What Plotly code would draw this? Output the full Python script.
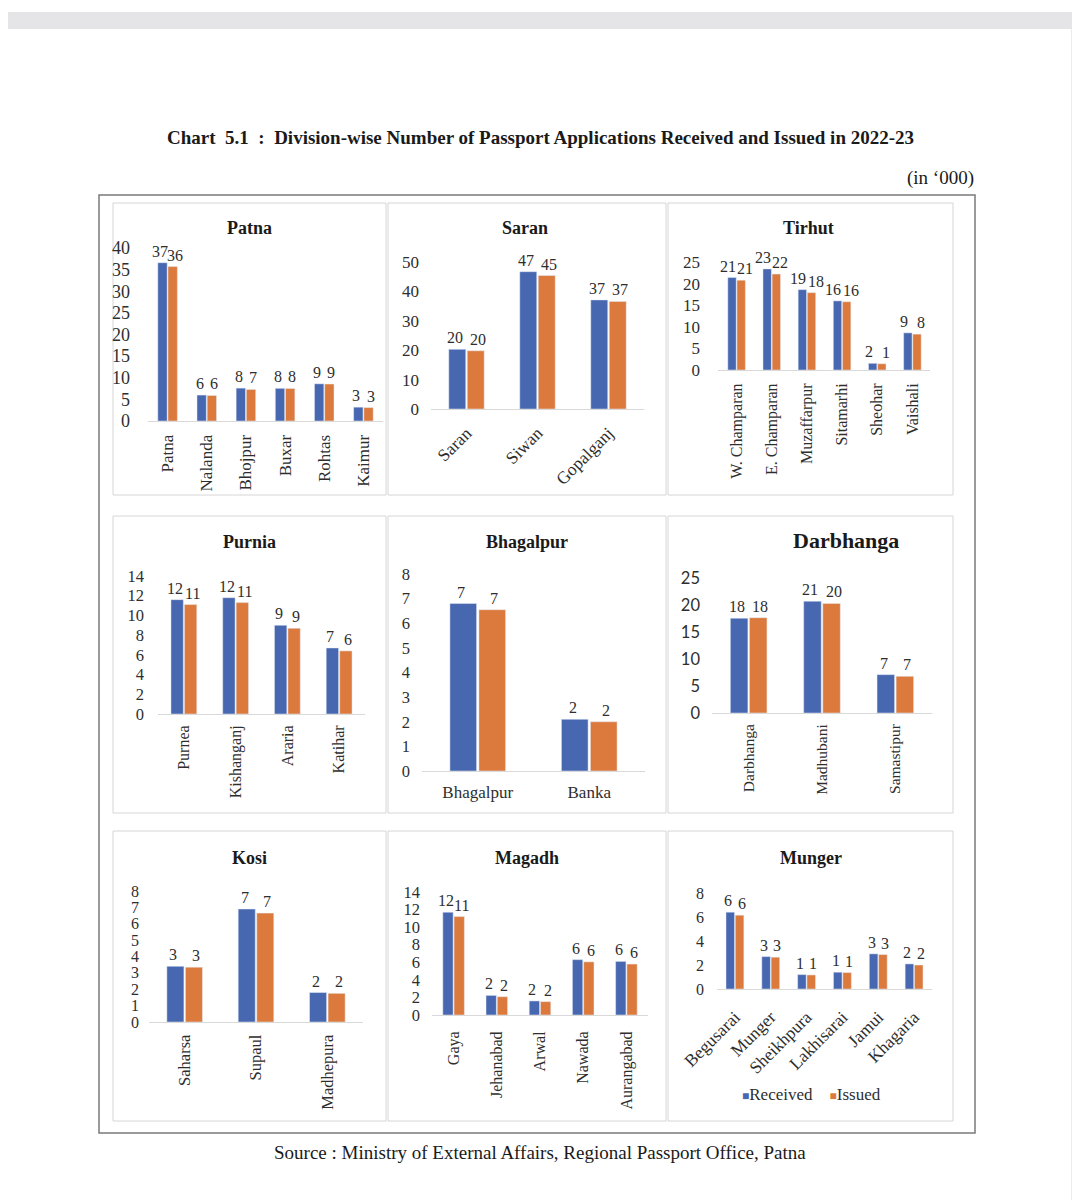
import plotly.graph_objects as go

# ---------------- data (in '000) ----------------
patna_districts = ["Patna", "Nalanda", "Bhojpur", "Buxar", "Rohtas", "Kaimur"]
patna_received = [36.6, 6.0, 7.6, 7.55, 8.6, 3.2]
patna_issued = [35.7, 5.9, 7.3, 7.52, 8.55, 3.1]

saran_districts = ["Saran", "Siwan", "Gopalganj"]
saran_received = [20.3, 46.7, 37.1]
saran_issued = [19.8, 45.4, 36.6]

tirhut_districts = ["W. Champaran", "E. Champaran", "Muzaffarpur", "Sitamarhi", "Sheohar", "Vaishali"]
tirhut_received = [21.4, 23.4, 18.6, 16.0, 1.55, 8.6]
tirhut_issued = [20.8, 22.2, 17.9, 15.8, 1.45, 8.3]

purnia_districts = ["Purnea", "Kishanganj", "Araria", "Katihar"]
purnia_received = [11.6, 11.8, 9.0, 6.7]
purnia_issued = [11.1, 11.3, 8.7, 6.4]

bhagalpur_districts = ["Bhagalpur", "Banka"]
bhagalpur_received = [6.8, 2.1]
bhagalpur_issued = [6.55, 2.0]

darbhanga_districts = ["Darbhanga", "Madhubani", "Samastipur"]
darbhanga_received = [17.55, 20.7, 7.1]
darbhanga_issued = [17.65, 20.3, 6.8]

kosi_districts = ["Saharsa", "Supaul", "Madhepura"]
kosi_received = [3.4, 6.9, 1.8]
kosi_issued = [3.35, 6.65, 1.75]

magadh_districts = ["Gaya", "Jehanabad", "Arwal", "Nawada", "Aurangabad"]
magadh_received = [11.7, 2.23, 1.6, 6.3, 6.1]
magadh_issued = [11.2, 2.08, 1.52, 6.05, 5.8]

munger_districts = ["Begusarai", "Munger", "Sheikhpura", "Lakhisarai", "Jamui", "Khagaria"]
munger_received = [6.4, 2.7, 1.2, 1.4, 2.93, 2.09]
munger_issued = [6.15, 2.65, 1.17, 1.37, 2.87, 2.0]

series_names = ["Received", "Issued"]

# ---------------- layout helpers ----------------
W, H = 1080, 1200
OFF = 8  # page body margin of the html page
BLUE = "#4767B0"
ORANGE = "#DC7A3D"
TXT = "#2e2e2e"
SERIF = "Liberation Serif, Times New Roman, serif"
SANS = "Lato, Liberation Sans, sans-serif"
BARGAP = 0.48
GROUPGAP = 0.08


def px_x(v):
    return (v - OFF) / W


def px_y(v):
    return 1 - (v - OFF) / H


panels = [
    dict(title="Patna", cats=patna_districts, rec=patna_received, iss=patna_issued,
         box=(148, 383, 248, 421), ymax=40, dtick=5, angle=-90, tx=249, ty=228,
         yfs=18, ysoff=17, xfs=17, xsoff=6),
    dict(title="Saran", cats=saran_districts, rec=saran_received, iss=saran_issued,
         box=(431, 644, 262, 409), ymax=50, dtick=10, angle=-45, tx=525, ty=228,
         yfs=17, ysoff=11, xfs=17.5, xsoff=6),
    dict(title="Tirhut", cats=tirhut_districts, rec=tirhut_received, iss=tirhut_issued,
         box=(718, 930, 262, 370), ymax=25, dtick=5, angle=-90, tx=808, ty=228,
         yfs=17, ysoff=17, xfs=16, xsoff=6, extra=4),
    dict(title="Purnia", cats=purnia_districts, rec=purnia_received, iss=purnia_issued,
         box=(158, 365, 576, 714), ymax=14, dtick=2, angle=-90, tx=249, ty=542,
         yfs=16.5, ysoff=13, xfs=16, xsoff=4),
    dict(title="Bhagalpur", cats=bhagalpur_districts, rec=bhagalpur_received, iss=bhagalpur_issued,
         box=(422, 645, 574, 771), ymax=8, dtick=1, angle=0, tx=527, ty=542,
         yfs=16.5, ysoff=11, xfs=17, xsoff=6),
    dict(title="Darbhanga", cats=darbhanga_districts, rec=darbhanga_received, iss=darbhanga_issued,
         box=(712, 932, 578, 713), ymax=25, dtick=5, angle=-90, tx=846, ty=540,
         titlesize=22, yfont=SANS, yfs=16.5, ysoff=11, xfs=15.5, xsoff=4),
    dict(title="Kosi", cats=kosi_districts, rec=kosi_received, iss=kosi_issued,
         box=(149, 363, 891, 1022), ymax=8, dtick=1, angle=-90, tx=249, ty=858,
         yfs=16, ysoff=9, xfs=16.5, xsoff=5),
    dict(title="Magadh", cats=magadh_districts, rec=magadh_received, iss=magadh_issued,
         box=(432, 648, 892, 1015), ymax=14, dtick=2, angle=-90, tx=527, ty=858,
         yfs=16.5, ysoff=11, xfs=16, xsoff=9),
    dict(title="Munger", cats=munger_districts, rec=munger_received, iss=munger_issued,
         box=(717, 932, 893, 989), ymax=8, dtick=2, angle=-45, tx=811, ty=858,
         yfs=16, ysoff=12, xfs=17.5, xsoff=10),
]

fig = go.Figure()
layout_axes = {}
annotations = []
shapes = []

for i, p in enumerate(panels):
    n = "" if i == 0 else str(i + 1)
    xa, ya = "x" + n, "y" + n
    x0, x1, y0, y1 = p["box"]
    cw = (x1 - x0) / len(p["cats"])
    off = (1 - BARGAP) * cw / 4.0
    extra = p.get("extra", 2)
    for k, (name, vals, col) in enumerate(((series_names[0], p["rec"], BLUE),
                                           (series_names[1], p["iss"], ORANGE))):
        fig.add_trace(go.Bar(
            x=p["cats"], y=vals, name=name, marker_color=col,
            xaxis=xa, yaxis=ya, legendgroup=name, showlegend=False,
            hovertemplate="%{x}: %{y}<extra>" + name + "</extra>",
        ))
        shift = -(off + extra) if k == 0 else (off + extra)
        for c, v in zip(p["cats"], vals):
            annotations.append(dict(
                text=str(int(v + 0.5)),
                x=c, y=v, xref=xa, yref=ya, xanchor="center", yanchor="bottom",
                xshift=shift, yshift=1, showarrow=False,
                font=dict(family=SERIF, size=16, color=TXT),
            ))
    layout_axes["xaxis" + n] = dict(
        domain=[px_x(x0), px_x(x1)], anchor=ya, showline=True, linecolor="#d9d9d9",
        linewidth=1, showgrid=False, zeroline=False, ticks="", tickangle=p["angle"],
        tickfont=dict(family=SERIF, size=p["xfs"], color=TXT), fixedrange=True,
        ticklabelstandoff=p["xsoff"], automargin=False,
    )
    layout_axes["yaxis" + n] = dict(
        domain=[px_y(y1), px_y(y0)], anchor=xa, range=[0, p["ymax"]], dtick=p["dtick"],
        showline=False, showgrid=False, zeroline=False, ticks="",
        tickfont=dict(family=p.get("yfont", SERIF), size=p["yfs"], color=TXT),
        ticklabelstandoff=p["ysoff"], fixedrange=True, automargin=False,
    )
    annotations.append(dict(
        text="<b>" + p["title"] + "</b>", x=px_x(p["tx"]), y=px_y(p["ty"]),
        xref="paper", yref="paper", xanchor="center", yanchor="middle", showarrow=False,
        font=dict(family=SERIF, size=p.get("titlesize", 18), color="#1a1a1a"),
    ))

# panel boxes
cols = [(113, 386), (388, 666), (668, 953)]
rows = [(203, 495), (516, 813), (831, 1121)]
for (ry0, ry1) in rows:
    for (cx0, cx1) in cols:
        shapes.append(dict(type="rect", xref="paper", yref="paper",
                           x0=px_x(cx0), x1=px_x(cx1), y0=px_y(ry1), y1=px_y(ry0),
                           line=dict(color="#d6d6d6", width=1), layer="below"))

# outer frame
shapes.append(dict(type="rect", xref="paper", yref="paper",
                   x0=px_x(99), x1=px_x(975), y0=px_y(1133), y1=px_y(195),
                   line=dict(color="#7a7a7a", width=1.5), layer="below"))

# page strips (screenshot background)
shapes.append(dict(type="rect", xref="paper", yref="paper", x0=0, x1=1, y0=px_y(29), y1=px_y(12),
                   fillcolor="#e5e5e7", line=dict(width=0), layer="below"))
shapes.append(dict(type="rect", xref="paper", yref="paper", x0=px_x(1071), x1=1, y0=0, y1=px_y(29),
                   fillcolor="#ececee", line=dict(width=0), layer="below"))

# legend (drawn as text)
annotations.append(dict(
    text=(f'<span style="color:{BLUE};font-size:12px">\u25a0</span>{series_names[0]}'
          f'    <span style="color:{ORANGE};font-size:12px">\u25a0</span>{series_names[1]}'),
    x=px_x(740), y=px_y(1094), xref="paper", yref="paper", xanchor="left", yanchor="middle",
    showarrow=False, font=dict(family=SERIF, size=17, color=TXT)))

# main texts
annotations.append(dict(
    text="<b>Chart  5.1  :  Division-wise Number of Passport Applications Received and Issued in 2022-23</b>",
    x=px_x(540), y=px_y(137), xref="paper", yref="paper", xanchor="center", yanchor="middle",
    showarrow=False, font=dict(family=SERIF, size=19, color="#1a1a1a")))
annotations.append(dict(
    text="(in \u2018000)", x=px_x(976), y=px_y(178), xref="paper", yref="paper",
    xanchor="right", yanchor="middle", showarrow=False,
    font=dict(family=SERIF, size=19, color="#1a1a1a")))
annotations.append(dict(
    text="Source : Ministry of External Affairs, Regional Passport Office, Patna",
    x=px_x(540), y=px_y(1152), xref="paper", yref="paper", xanchor="center", yanchor="middle",
    showarrow=False, font=dict(family=SERIF, size=19, color="#1a1a1a")))

fig.update_layout(
    width=W, height=H, margin=dict(l=0, r=0, t=0, b=0, pad=0, autoexpand=False),
    paper_bgcolor="#ffffff", plot_bgcolor="rgba(0,0,0,0)",
    barmode="group", bargap=BARGAP, bargroupgap=GROUPGAP,
    showlegend=False,
    annotations=annotations, shapes=shapes,
    **layout_axes,
)

fig.write_html("out.html", config={"responsive": False})
